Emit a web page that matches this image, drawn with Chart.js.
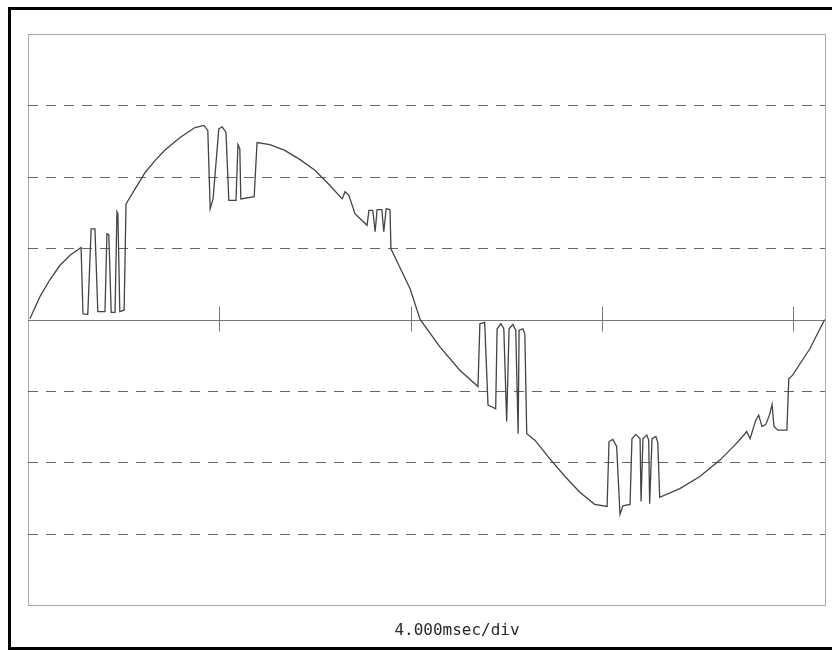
<!DOCTYPE html>
<html>
<head>
<meta charset="utf-8">
<script src="https://cdn.jsdelivr.net/npm/chart.js@4/dist/chart.umd.min.js"></script>
<style>
  html, body { margin: 0; padding: 0; background: #fff; }
  #wrap { position: relative; width: 832px; height: 650px; overflow: hidden; }
  #frame {
    position: absolute; left: 8px; top: 7px; width: 830px; height: 637px;
    border-left: 3px solid #000; border-top: 3px solid #000; border-bottom: 3px solid #000;
  }
  #scope { position: absolute; left: 0; top: 0; }
  #caption {
    position: absolute; left: 357px; width: 200px; top: 620px; text-align: center;
    font-family: "DejaVu Sans Mono", monospace; font-size: 16px; color: #2a2a2a;
  }
</style>
</head>
<body>
<div id="wrap">
  <canvas id="scope" width="832" height="650"></canvas>
  <div id="frame"></div>
  <div id="caption">4.000msec/div</div>
</div>
<script>
// time axis in ms, one 60 Hz cycle
const timeMs = [
  0.04, 0.25, 0.46, 0.67, 0.88, 1.11, 1.15, 1.25, 1.32, 1.40,
  1.46, 1.61, 1.65, 1.69, 1.74, 1.82, 1.86, 1.88, 1.92, 2.01,
  2.05, 2.24, 2.45, 2.66, 2.86, 3.18, 3.49, 3.68, 3.76, 3.81,
  3.87, 3.99, 4.06, 4.14, 4.20, 4.35, 4.39, 4.43, 4.45, 4.73,
  4.79, 5.06, 5.37, 5.69, 6.00, 6.31, 6.57, 6.63, 6.71, 6.84,
  6.98, 7.09, 7.13, 7.21, 7.26, 7.30, 7.40, 7.44, 7.49, 7.57,
  7.59, 7.74, 7.99, 8.20, 8.61, 9.03, 9.41, 9.45, 9.55, 9.62,
  9.78, 9.81, 9.89, 9.95, 10.01, 10.06, 10.14, 10.20, 10.25, 10.27,
  10.35, 10.39, 10.43, 10.60, 10.91, 11.23, 11.54, 11.85, 12.11, 12.15,
  12.23, 12.31, 12.38, 12.44, 12.59, 12.63, 12.71, 12.80, 12.82, 12.86,
  12.94, 12.98, 13.00, 13.05, 13.13, 13.17, 13.21, 13.63, 14.05, 14.47,
  14.78, 14.93, 15.03, 15.10, 15.22, 15.28, 15.35, 15.43, 15.51, 15.56,
  15.60, 15.68, 15.87, 15.91, 15.99, 16.35, 16.66
];

// trace level in divisions
const volts = [
  0.01, 0.32, 0.56, 0.76, 0.90, 1.01, 0.08, 0.07, 1.27, 1.27,
  0.11, 0.11, 1.20, 1.19, 0.10, 0.10, 1.51, 1.48, 0.11, 0.13,
  1.62, 1.83, 2.06, 2.23, 2.37, 2.55, 2.69, 2.72, 2.65, 1.55,
  1.69, 2.67, 2.70, 2.62, 1.67, 1.67, 2.45, 2.39, 1.69, 1.72,
  2.48, 2.45, 2.37, 2.24, 2.09, 1.88, 1.69, 1.79, 1.74, 1.48,
  1.39, 1.32, 1.53, 1.53, 1.23, 1.54, 1.54, 1.23, 1.55, 1.54,
  0.99, 0.78, 0.43, 0.00, -0.38, -0.71, -0.94, -0.06, -0.04, -1.20,
  -1.25, -0.13, -0.06, -0.13, -1.43, -0.13, -0.07, -0.15, -1.60, -0.15,
  -0.13, -0.20, -1.60, -1.69, -1.95, -2.20, -2.42, -2.59, -2.62, -1.71,
  -1.68, -1.78, -2.73, -2.61, -2.59, -1.67, -1.61, -1.67, -2.55, -1.67,
  -1.62, -1.69, -2.58, -1.67, -1.64, -1.72, -2.49, -2.37, -2.20, -1.97,
  -1.76, -1.65, -1.57, -1.67, -1.41, -1.34, -1.50, -1.47, -1.33, -1.19,
  -1.50, -1.55, -1.55, -0.83, -0.78, -0.41, 0.00
];

const gridLevels = [-3, -2, -1, 1, 2, 3];
const tickTimes = [4, 8, 12, 16];

// graticule: box, dashed levels, center line with time ticks
const scopeGrid = {
  id: 'scopeGrid',
  beforeDatasetsDraw(chart) {
    const { ctx, chartArea: a, scales: { x, y } } = chart;
    ctx.save();
    ctx.lineWidth = 1;

    ctx.strokeStyle = '#aaa';
    ctx.setLineDash([]);
    ctx.strokeRect(Math.round(a.left) + 0.5, Math.round(a.top) + 0.5,
      Math.round(a.right - a.left), Math.round(a.bottom - a.top));

    ctx.strokeStyle = '#666';
    ctx.setLineDash([10, 8]);
    gridLevels.forEach(v => {
      const py = Math.round(y.getPixelForValue(v)) + 0.5;
      ctx.beginPath();
      ctx.moveTo(a.left, py);
      ctx.lineTo(a.right, py);
      ctx.stroke();
    });

    ctx.setLineDash([]);
    ctx.strokeStyle = '#777';
    const y0 = Math.round(y.getPixelForValue(0)) + 0.5;
    ctx.beginPath();
    ctx.moveTo(a.left, y0);
    ctx.lineTo(a.right, y0);
    ctx.stroke();

    tickTimes.forEach(t => {
      const px = Math.round(x.getPixelForValue(t)) + 0.5;
      ctx.beginPath();
      ctx.moveTo(px, y.getPixelForValue(0.18));
      ctx.lineTo(px, y.getPixelForValue(-0.17));
      ctx.stroke();
    });
    ctx.restore();
  }
};

new Chart(document.getElementById('scope'), {
  type: 'scatter',
  data: {
    datasets: [{
      data: timeMs.map((t, i) => ({ x: t, y: volts[i] })),
      showLine: true,
      borderColor: '#444',
      borderWidth: 1.3,
      pointRadius: 0,
      tension: 0
    }]
  },
  options: {
    responsive: false,
    animation: false,
    layout: { padding: { left: 28, right: 7, top: 34, bottom: 45 } },
    plugins: { legend: { display: false }, tooltip: { enabled: false } },
    scales: {
      x: { type: 'linear', min: 0, max: 16.667, display: false },
      y: { type: 'linear', min: -4, max: 4, display: false }
    }
  },
  plugins: [scopeGrid]
});
</script>
</body>
</html>
